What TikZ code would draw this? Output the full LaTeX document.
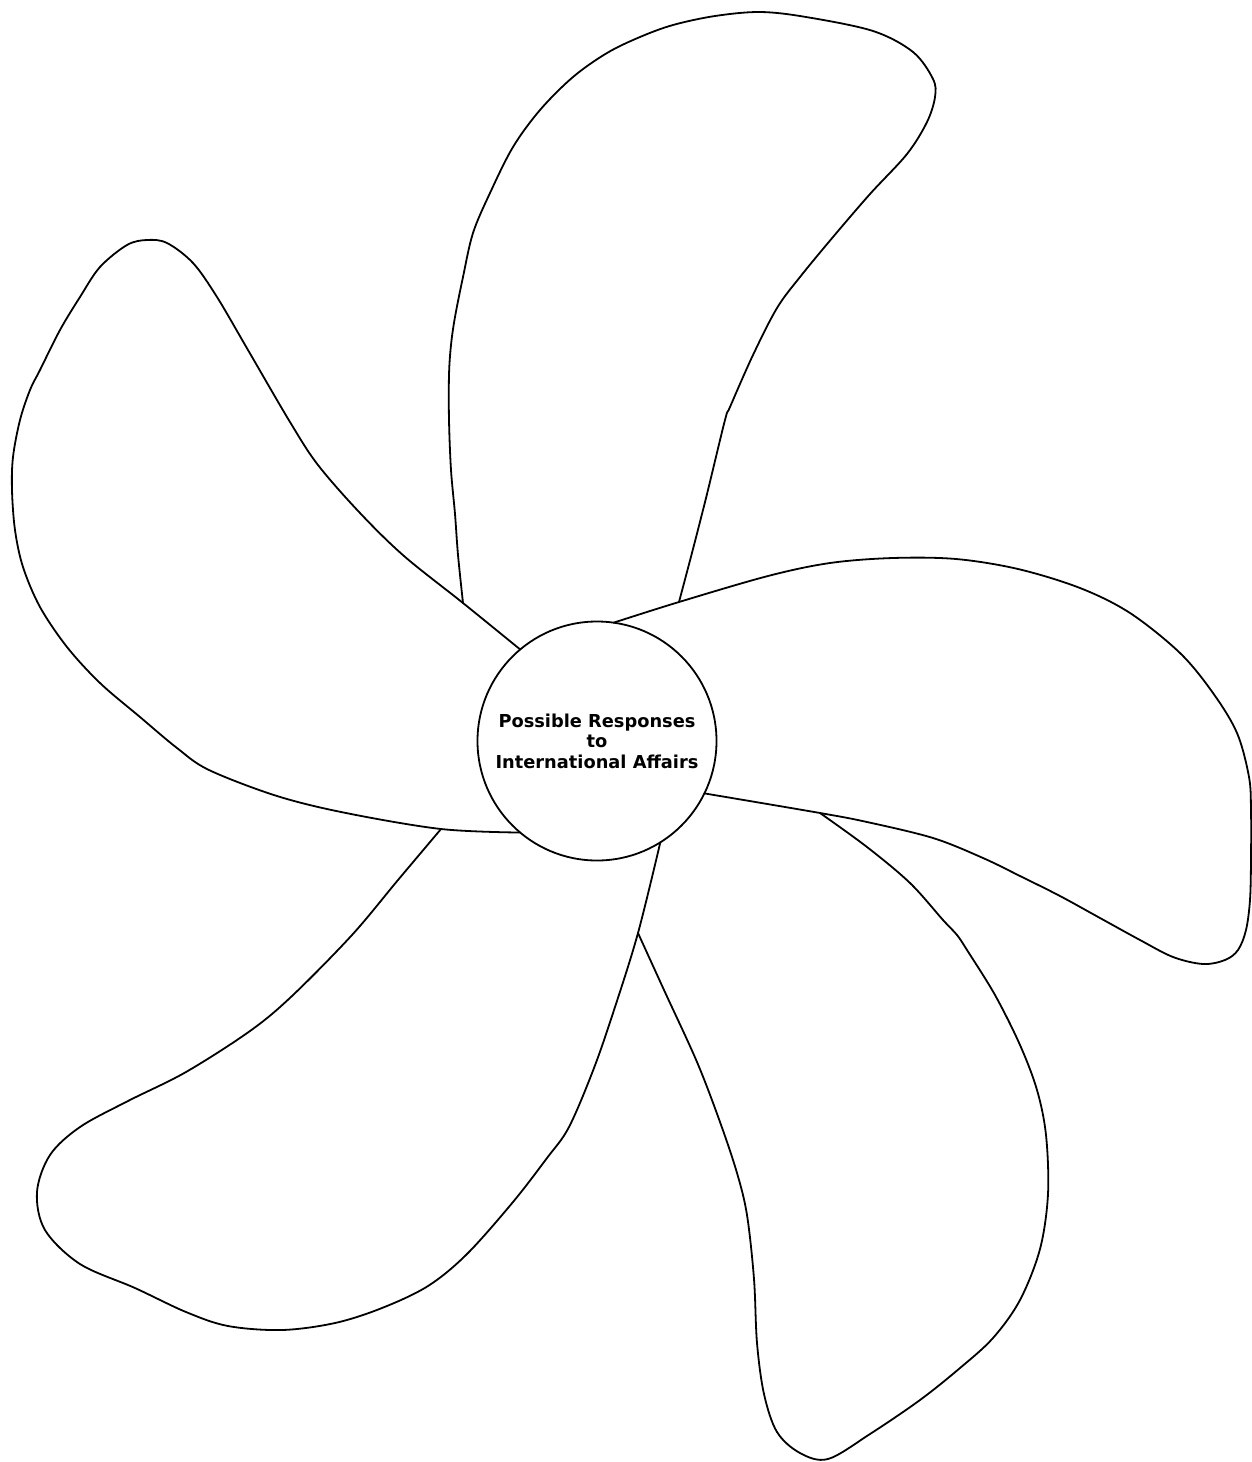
\documentclass[tikz,border=0pt]{standalone}
\usepackage{fontspec}
\setmainfont{DejaVu Sans}
\begin{document}
\begin{tikzpicture}[x=1pt,y=-1pt,
  petal/.style={draw=black,line width=1.8pt,line join=round,line cap=round},
  hubstyle/.style={circle,draw=black,fill=white,line width=1.8pt,minimum size=239pt,inner sep=0pt,outer sep=0pt,align=center,font=\bfseries\fontsize{17.8}{20.5}\selectfont}]
\useasboundingbox (0,0) rectangle (1252,1462);
\node[hubstyle] (hub) at (597,741) {Possible Responses\\to\\International Affairs};
% top petal
\draw[petal] plot[smooth,tension=0.55] coordinates {(463,603) (458,555) (455,514) (451,470) (449,420) (449,375) (451,345) (455,317) (463,277) (473,233) (490,193) (513,147) (540,110) (573,77) (607,53) (640,37) (673,25) (715,16) (760,12) (806,17) (873,31) (913,52) (933,79) (935,97) (927,122) (907,154) (870,194) (833,237) (800,277) (777,308) (753,355) (730,407) (725,420) (707,494) (693,549) (679,602)};
% left petal
\draw[petal] plot[smooth,tension=0.55] coordinates {(hub.130.6) (463,603) (404,556) (360,513) (318,465) (290,422) (248,350) (217,297) (193,263) (167,243) (147,240) (127,245) (100,267) (80,297) (60,330) (40,370) (30,390) (20,420) (13,457) (12,490) (15,530) (23,567) (40,607) (67,647) (100,683) (140,717) (177,748) (209,770) (277,796) (346,813) (441,829) (hub.230.4)};
% right petal
\draw[petal] plot[smooth,tension=0.55] coordinates {(hub.82.3) (679,602) (768,576) (830,563) (893,558) (956,559) (1018,569) (1080,588) (1130,613) (1180,653) (1213,693) (1237,733) (1249,777) (1251,810) (1251,860) (1250,900) (1246,930) (1238,950) (1225,960) (1203,964) (1173,957) (1140,940) (1100,918) (1060,896) (1020,876) (983,858) (933,838) (867,822) (820,813) (hub.334.7)};
% bottom-left petal
\draw[petal] plot[smooth,tension=0.55] coordinates {(441,829) (398,880) (352,935) (292,996) (250,1031) (186,1072) (128,1101) (80,1127) (50,1155) (37,1192) (45,1230) (80,1264) (135,1288) (186,1312) (228,1326) (282,1330) (335,1323) (382,1308) (428,1286) (467,1254) (513,1202) (547,1158) (569,1127) (594,1068) (615,1007) (638,933) (hub.302)};
% bottom-right petal
\draw[petal] plot[smooth,tension=0.55] coordinates {(638,933) (664,990) (697,1062) (720,1122) (737,1173) (747,1215) (754,1279) (757,1343) (764,1394) (777,1432) (800,1453) (828,1459) (870,1434) (920,1400) (960,1368) (993,1338) (1020,1300) (1040,1249) (1048,1194) (1046,1135) (1037,1090) (1020,1045) (995,995) (967,950) (957,935) (943,920) (910,883) (867,847) (820,813)};
\end{tikzpicture}
\end{document}
